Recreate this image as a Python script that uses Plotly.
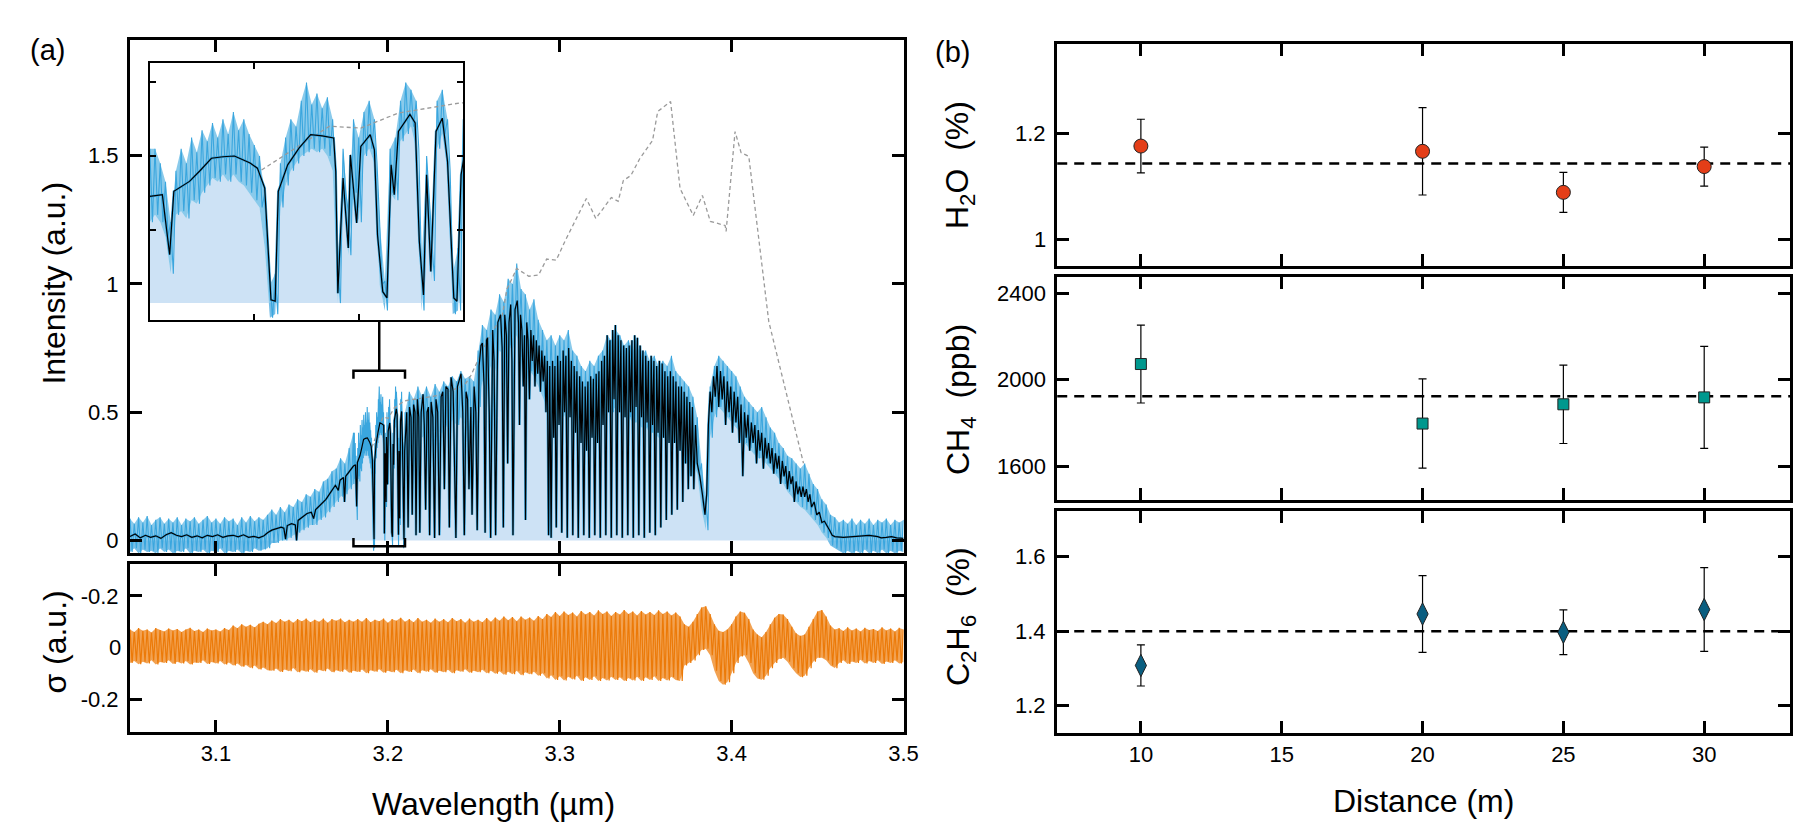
import plotly.graph_objects as go

# ------------------------------------------------------------------ data
# model (fitted) spectrum, black line
model_wl = [
    3.050, 3.053, 3.056, 3.059, 3.062, 3.065, 3.068, 3.071, 3.074, 3.077,
    3.080, 3.083, 3.086, 3.089, 3.092, 3.095, 3.098, 3.101, 3.104, 3.107,
    3.110, 3.113, 3.116, 3.119, 3.122, 3.125, 3.128, 3.130,
    3.1325, 3.135, 3.138, 3.1395, 3.1405, 3.1415, 3.144, 3.1462, 3.1469, 3.1478,
    3.150, 3.153, 3.1555, 3.1568, 3.158, 3.161, 3.164, 3.167, 3.1695, 3.1712,
    3.1722, 3.1742, 3.1748, 3.1755, 3.178, 3.180,
    3.1812, 3.1819, 3.1823, 3.1838, 3.1848, 3.1859, 3.1870, 3.1881, 3.1896, 3.1903,
    3.1910, 3.1916, 3.1920, 3.1923, 3.1932, 3.1943, 3.1954, 3.1965, 3.1976, 3.1978,
    3.1980, 3.1985, 3.1990, 3.1992, 3.1998, 3.2002, 3.2011, 3.2015, 3.2018, 3.2023,
    3.2027, 3.2031, 3.2034, 3.2038, 3.2049, 3.2054, 3.2058, 3.2062, 3.2065, 3.2069,
    3.2074, 3.2080, 3.2085, 3.2091, 3.2094, 3.2098, 3.2102,
    3.2110, 3.2118, 3.2126, 3.2135, 3.2142, 3.2150, 3.2158, 3.2164, 3.2172, 3.2180,
    3.2186, 3.2194, 3.2205, 3.2212, 3.2220, 3.2228, 3.2236, 3.2243, 3.2252, 3.2262,
    3.2272, 3.2280, 3.2290, 3.2300, 3.2310, 3.2320, 3.2329, 3.2338, 3.2350, 3.2358,
    3.2368, 3.2380, 3.2388, 3.2396, 3.2405, 3.2415, 3.2426, 3.2436, 3.2445, 3.2455,
    3.2464, 3.2472, 3.2483, 3.2490, 3.2502, 3.2512, 3.2520, 3.2531, 3.2542, 3.2550,
    3.2560, 3.2566, 3.2574, 3.2580, 3.2590, 3.2598, 3.2610, 3.2618, 3.2627, 3.2640,
    3.2656, 3.2665, 3.2672, 3.2680, 3.2690, 3.2697, 3.2705, 3.2715, 3.2722, 3.2728,
    3.2740, 3.2753, 3.2760,
    3.2766, 3.2772, 3.2780, 3.2788, 3.2795, 3.2801, 3.2808, 3.2816, 3.2824, 3.2832,
    3.2840, 3.2848, 3.2856, 3.2864, 3.2872, 3.2880, 3.2888, 3.2896, 3.2904, 3.2912,
    3.2920, 3.2928, 3.2935, 3.2942, 3.2950, 3.2958, 3.2965, 3.2972, 3.2980, 3.2988,
    3.2996, 3.3004, 3.3012, 3.3020, 3.3028, 3.3036, 3.3044, 3.3052, 3.3060, 3.3068,
    3.3076, 3.3084, 3.3092, 3.3100, 3.3108, 3.3116, 3.3124, 3.3132, 3.3140, 3.3148,
    3.3156, 3.3164, 3.3172, 3.3180, 3.3188, 3.3196, 3.3204, 3.3212, 3.3220, 3.3228,
    3.3236, 3.3244, 3.3252, 3.3260, 3.3268, 3.3276, 3.3284, 3.3292, 3.3300, 3.3308,
    3.3316, 3.3324, 3.3332, 3.3340, 3.3348, 3.3356, 3.3364, 3.3372, 3.3380, 3.3388,
    3.3396, 3.3404, 3.3412, 3.3420, 3.3428, 3.3436, 3.3444, 3.3452, 3.3460, 3.3468,
    3.3476, 3.3484, 3.3492, 3.3500, 3.3508, 3.3516, 3.3524, 3.3532, 3.3540, 3.3548,
    3.3556, 3.3564, 3.3572, 3.3580, 3.3588, 3.3596, 3.3604, 3.3612, 3.3620, 3.3628,
    3.3636, 3.3644, 3.3652, 3.3660, 3.3668, 3.3676, 3.3684, 3.3692, 3.3700, 3.3708,
    3.3716, 3.3724, 3.3732, 3.3740, 3.3748, 3.3756, 3.3764, 3.3772, 3.3780, 3.3790,
    3.3800, 3.3815, 3.3830, 3.3845, 3.3855, 3.3865, 3.3875, 3.3885, 3.3895, 3.3905,
    3.3915, 3.3925, 3.3935, 3.3945, 3.3955, 3.3965, 3.3975, 3.3985, 3.3995, 3.4005,
    3.4015, 3.4025, 3.4035, 3.4045, 3.4055, 3.4065, 3.4075, 3.4085, 3.4095, 3.4105,
    3.4115, 3.4125, 3.4135, 3.4145, 3.4155, 3.4165, 3.4175, 3.4185, 3.4195, 3.4205,
    3.4215, 3.4225, 3.4235, 3.4245, 3.4255, 3.4265, 3.4275, 3.4285, 3.4295, 3.4305,
    3.4315, 3.4325, 3.4335, 3.4345, 3.4355, 3.4365, 3.4375, 3.4385, 3.4395, 3.4405,
    3.4415, 3.4425, 3.4435, 3.4445, 3.4455, 3.4465, 3.4480, 3.4495, 3.4510, 3.4525,
    3.4540, 3.4555, 3.4570, 3.4585, 3.4600, 3.4650, 3.4700, 3.4750, 3.4800, 3.4850,
    3.4870, 3.4900, 3.4930, 3.4960, 3.5000,
]
model_int = [
    0.015, 0.025, 0.010, 0.020, 0.012, 0.018, 0.008, 0.022, 0.030, 0.020,
    0.015, 0.022, 0.012, 0.018, 0.010, 0.020, 0.015, 0.022, 0.012, 0.018,
    0.020, 0.014, 0.022, 0.012, 0.016, 0.010, 0.018, 0.030,
    0.040, 0.045, 0.052, 0.048, 0.005, 0.058, 0.065, 0.060, 0.000, 0.078,
    0.090, 0.105, 0.110, 0.085, 0.120, 0.140, 0.160, 0.190, 0.215, 0.195,
    0.235, 0.245, 0.150, 0.250, 0.270, 0.290,
    0.295, 0.132, 0.304, 0.331, 0.360, 0.394, 0.398, 0.400, 0.381, 0.367,
    0.313, 0.009, 0.005, 0.304, 0.376, 0.422, 0.458, 0.455, 0.449, 0.358,
    0.027, 0.340, 0.150, 0.403, 0.218, 0.426, 0.458, 0.417, 0.185, 0.031,
    0.014, 0.376, 0.295, 0.467, 0.513, 0.490, 0.168, 0.022, 0.349, 0.086,
    0.467, 0.503, 0.385, 0.014, 0.005, 0.349, 0.420,
    0.500, 0.050, 0.520, 0.480, 0.100, 0.530, 0.500, 0.020, 0.550, 0.480,
    0.030, 0.500, 0.570, 0.450, 0.120, 0.500, 0.520, 0.020, 0.540, 0.480,
    0.010, 0.550, 0.500, 0.020, 0.560, 0.580, 0.200, 0.600, 0.590, 0.050,
    0.636, 0.580, 0.300, 0.010, 0.600, 0.620, 0.650, 0.500, 0.020, 0.580,
    0.550, 0.200, 0.520, 0.100, 0.600, 0.500, 0.040, 0.680, 0.760, 0.770,
    0.600, 0.030, 0.780, 0.790, 0.500, 0.010, 0.820, 0.700, 0.020, 0.850,
    0.880, 0.750, 0.050, 0.880, 0.800, 0.300, 0.850, 0.920, 0.700, 0.020,
    0.900, 0.935, 0.850,
    0.45, 0.88, 0.82, 0.60, 0.80, 0.08, 0.85, 0.78, 0.55, 0.82,
    0.70, 0.80, 0.60, 0.78, 0.65, 0.76, 0.58, 0.74, 0.62, 0.72,
    0.50, 0.70, 0.02, 0.68, 0.01, 0.70, 0.40, 0.68, 0.05, 0.72,
    0.45, 0.70, 0.03, 0.74, 0.50, 0.72, 0.01, 0.75, 0.48, 0.70,
    0.02, 0.68, 0.42, 0.66, 0.01, 0.64, 0.38, 0.62, 0.02, 0.60,
    0.35, 0.62, 0.01, 0.64, 0.40, 0.63, 0.02, 0.65, 0.38, 0.66,
    0.01, 0.70, 0.45, 0.72, 0.02, 0.80, 0.50, 0.78, 0.01, 0.82,
    0.55, 0.84, 0.02, 0.80, 0.50, 0.78, 0.01, 0.76, 0.48, 0.75,
    0.02, 0.76, 0.50, 0.78, 0.01, 0.80, 0.52, 0.79, 0.02, 0.76,
    0.48, 0.74, 0.01, 0.72, 0.46, 0.70, 0.03, 0.72, 0.45, 0.70,
    0.02, 0.68, 0.42, 0.70, 0.05, 0.69, 0.40, 0.66, 0.08, 0.64,
    0.38, 0.66, 0.10, 0.64, 0.38, 0.62, 0.12, 0.60, 0.35, 0.60,
    0.15, 0.58, 0.30, 0.56, 0.20, 0.54, 0.25, 0.52, 0.20, 0.45,
    0.30, 0.25, 0.18, 0.10, 0.18, 0.45, 0.58, 0.50, 0.64, 0.56,
    0.68, 0.52, 0.66, 0.55, 0.64, 0.45, 0.62, 0.50, 0.60, 0.42,
    0.58, 0.46, 0.56, 0.38, 0.53, 0.25, 0.50, 0.40, 0.49, 0.35,
    0.46, 0.38, 0.45, 0.30, 0.43, 0.35, 0.42, 0.28, 0.40, 0.32,
    0.38, 0.30, 0.36, 0.26, 0.34, 0.28, 0.33, 0.22, 0.31, 0.25,
    0.29, 0.20, 0.27, 0.22, 0.25, 0.15, 0.23, 0.18, 0.21, 0.17,
    0.21, 0.17, 0.20, 0.15, 0.18, 0.13, 0.15, 0.10, 0.11, 0.07,
    0.075, 0.06, 0.04, 0.02, 0.015, 0.012, 0.015, 0.018, 0.020, 0.015,
    0.010, 0.012, 0.015, 0.010, 0.008,
]

# measured spectrum (blue): upper / lower edge of the noisy trace
band_wl = [
    3.05, 3.0525, 3.055, 3.0575, 3.06, 3.0625, 3.065, 3.0675, 3.07, 3.0725,
    3.075, 3.0775, 3.08, 3.0825, 3.085, 3.0875, 3.09, 3.0925, 3.095, 3.0975,
    3.1, 3.1025, 3.105, 3.1075, 3.11, 3.1125, 3.115, 3.1175, 3.12, 3.1225,
    3.125, 3.1275, 3.13, 3.1325, 3.135, 3.1375, 3.14, 3.1425, 3.145, 3.1475,
    3.15, 3.1525, 3.155, 3.1575, 3.16, 3.1625, 3.165, 3.1675, 3.17, 3.1725,
    3.175, 3.1775, 3.18,
    3.1805, 3.181, 3.1815, 3.182, 3.1825, 3.183, 3.1835, 3.184, 3.1845, 3.185,
    3.1855, 3.186, 3.1865, 3.187, 3.1875, 3.188, 3.1885, 3.189, 3.1895, 3.19,
    3.1905, 3.191, 3.1915, 3.192, 3.1925, 3.193, 3.1935, 3.194, 3.1945, 3.195,
    3.1955, 3.196, 3.1965, 3.197, 3.1975, 3.198, 3.1985, 3.199, 3.1995, 3.2,
    3.2005, 3.201, 3.2015, 3.202, 3.2025, 3.203, 3.2035, 3.204, 3.2045, 3.205,
    3.2055, 3.206, 3.2065, 3.207, 3.2075, 3.208, 3.2085, 3.209, 3.2095, 3.21,
    3.2125, 3.215, 3.2175, 3.22, 3.2225, 3.225, 3.2275, 3.23, 3.2325, 3.235,
    3.2375, 3.24, 3.2425, 3.245, 3.2475, 3.25, 3.2525, 3.255, 3.2575, 3.26,
    3.2625, 3.265, 3.2675, 3.27, 3.2725, 3.275, 3.2775, 3.28, 3.2825, 3.285,
    3.2875, 3.29, 3.2925, 3.295, 3.2975, 3.3, 3.3025, 3.305, 3.3075, 3.31,
    3.3125, 3.315, 3.3175, 3.32, 3.3225, 3.325, 3.3275, 3.33, 3.3325, 3.335,
    3.3375, 3.34, 3.3425, 3.345, 3.3475, 3.35, 3.3525, 3.355, 3.3575, 3.36,
    3.3625, 3.365, 3.3675, 3.37, 3.3725, 3.375, 3.3775, 3.38, 3.3825, 3.385,
    3.3875, 3.39, 3.3925, 3.395, 3.3975, 3.4, 3.4025, 3.405, 3.4075, 3.41,
    3.4125, 3.415, 3.4175, 3.42, 3.4225, 3.425, 3.4275, 3.43, 3.4325, 3.435,
    3.4375, 3.44, 3.4425, 3.445, 3.4475, 3.45, 3.4525, 3.455, 3.4575, 3.46,
    3.4625, 3.465, 3.4675, 3.47, 3.4725, 3.475, 3.4775, 3.48, 3.4825, 3.485,
    3.4875, 3.49, 3.4925, 3.495, 3.4975, 3.5,
]
blue_hi = [
    0.085, 0.065, 0.09, 0.07, 0.095, 0.06, 0.08, 0.09, 0.065, 0.085,
    0.07, 0.09, 0.06, 0.085, 0.075, 0.09, 0.065, 0.08, 0.095, 0.07,
    0.085, 0.065, 0.09, 0.075, 0.085, 0.06, 0.09, 0.07, 0.095, 0.075,
    0.09, 0.08, 0.10, 0.12, 0.10, 0.13, 0.11, 0.14, 0.13, 0.16,
    0.15, 0.18, 0.17, 0.20, 0.19, 0.23, 0.24, 0.27, 0.28, 0.32,
    0.30, 0.36, 0.42,
    0.42, 0.38, 0.33, 0.22, 0.36, 0.42, 0.38, 0.45, 0.41, 0.47,
    0.44, 0.49, 0.45, 0.50, 0.46, 0.52, 0.47, 0.50, 0.46, 0.43,
    0.40, 0.30, 0.05, 0.08, 0.38, 0.45, 0.50, 0.48, 0.55, 0.60,
    0.54, 0.57, 0.53, 0.56, 0.50, 0.10, 0.42, 0.25, 0.50, 0.45,
    0.52, 0.55, 0.50, 0.22, 0.06, 0.42, 0.45, 0.55, 0.60, 0.58,
    0.55, 0.10, 0.40, 0.18, 0.55, 0.58, 0.50, 0.08, 0.15, 0.50,
    0.58, 0.55, 0.60, 0.56, 0.60, 0.56, 0.61, 0.58, 0.62, 0.60,
    0.64, 0.62, 0.66, 0.63, 0.64, 0.62, 0.74, 0.84, 0.82, 0.90,
    0.88, 0.96, 0.93, 1.02, 1.00, 1.08, 0.98, 0.96, 0.90, 0.94,
    0.86, 0.82, 0.78, 0.80, 0.76, 0.80, 0.78, 0.82, 0.74, 0.72,
    0.68, 0.66, 0.70, 0.68, 0.72, 0.74, 0.80, 0.78, 0.82, 0.80,
    0.76, 0.78, 0.74, 0.76, 0.72, 0.74, 0.70, 0.72, 0.68, 0.70,
    0.68, 0.72, 0.66, 0.64, 0.62, 0.60, 0.56, 0.48, 0.30, 0.16,
    0.60, 0.68, 0.72, 0.70, 0.68, 0.66, 0.64, 0.60, 0.56, 0.54,
    0.52, 0.50, 0.52, 0.48, 0.44, 0.42, 0.38, 0.36, 0.33, 0.32,
    0.30, 0.28, 0.30, 0.26, 0.22, 0.20, 0.16, 0.14, 0.10, 0.09,
    0.07, 0.08, 0.065, 0.085, 0.06, 0.08, 0.065, 0.085, 0.06, 0.08,
    0.07, 0.085, 0.06, 0.08, 0.07, 0.08,
]
blue_lo = [
    -0.045, -0.03, -0.05, -0.035, -0.045, -0.04, -0.05, -0.03, -0.045, -0.035,
    -0.05, -0.04, -0.045, -0.03, -0.05, -0.04, -0.045, -0.035, -0.05, -0.04,
    -0.045, -0.03, -0.05, -0.04, -0.045, -0.035, -0.05, -0.04, -0.045, -0.03,
    -0.04, -0.035, -0.03, -0.01, -0.01, 0.0, 0.0, 0.01, 0.02, 0.03,
    0.04, 0.05, 0.06, 0.06, 0.08, 0.09, 0.11, 0.13, 0.15, 0.17,
    0.18, 0.20, 0.22,
    0.24, 0.22, 0.18, 0.08, 0.24, 0.25, 0.23, 0.28, 0.27, 0.30,
    0.32, 0.34, 0.33, 0.35, 0.33, 0.35, 0.33, 0.32, 0.30, 0.28,
    0.26, 0.15, -0.04, -0.03, 0.26, 0.32, 0.36, 0.38, 0.40, 0.41,
    0.42, 0.41, 0.42, 0.40, 0.36, 0.0, 0.30, 0.13, 0.30, 0.22,
    0.40, 0.42, 0.38, 0.05, -0.02, 0.30, 0.28, 0.44, 0.46, 0.48,
    0.42, -0.02, 0.28, 0.06, 0.42, 0.46, 0.36, -0.03, -0.02, 0.36,
    0.40, 0.38, 0.42, 0.40, 0.42, 0.40, 0.43, 0.42, 0.45, 0.44,
    0.47, 0.45, 0.48, 0.45, 0.44, 0.43, 0.52, 0.62, 0.62, 0.68,
    0.66, 0.74, 0.72, 0.76, 0.74, 0.80, 0.72, 0.70, 0.66, 0.64,
    0.60, 0.56, 0.52, 0.50, 0.48, 0.50, 0.48, 0.52, 0.46, 0.44,
    0.42, 0.40, 0.42, 0.42, 0.44, 0.46, 0.50, 0.50, 0.52, 0.50,
    0.48, 0.48, 0.46, 0.46, 0.44, 0.44, 0.42, 0.42, 0.40, 0.40,
    0.40, 0.42, 0.38, 0.36, 0.34, 0.32, 0.30, 0.26, 0.12, 0.04,
    0.40, 0.48, 0.52, 0.50, 0.48, 0.46, 0.44, 0.42, 0.38, 0.36,
    0.34, 0.32, 0.32, 0.30, 0.28, 0.26, 0.24, 0.22, 0.19, 0.17,
    0.15, 0.13, 0.12, 0.10, 0.08, 0.06, 0.03, 0.01, -0.02, -0.03,
    -0.04, -0.05, -0.04, -0.05, -0.04, -0.05, -0.035, -0.05, -0.04, -0.05,
    -0.035, -0.05, -0.04, -0.05, -0.04, -0.045,
]

# residual sigma (orange): upper / lower edge
resid_wl = [
    3.05, 3.0525, 3.055, 3.0575, 3.06, 3.0625, 3.065, 3.0675, 3.07, 3.0725,
    3.075, 3.0775, 3.08, 3.0825, 3.085, 3.0875, 3.09, 3.0925, 3.095, 3.0975,
    3.1, 3.1025, 3.105, 3.1075, 3.11, 3.1125, 3.115, 3.1175, 3.12, 3.1225,
    3.125, 3.1275, 3.13, 3.1325, 3.135, 3.1375, 3.14, 3.1425, 3.145, 3.1475,
    3.15, 3.1525, 3.155, 3.1575, 3.16, 3.1625, 3.165, 3.1675, 3.17, 3.1725,
    3.175, 3.1775, 3.18, 3.1825, 3.185, 3.1875, 3.19, 3.1925, 3.195, 3.1975,
    3.2, 3.2025, 3.205, 3.2075, 3.21,
    3.2125, 3.215, 3.2175, 3.22, 3.2225, 3.225, 3.2275, 3.23, 3.2325, 3.235,
    3.2375, 3.24, 3.2425, 3.245, 3.2475, 3.25, 3.2525, 3.255, 3.2575, 3.26,
    3.2625, 3.265, 3.2675, 3.27, 3.2725, 3.275, 3.2775, 3.28, 3.2825, 3.285,
    3.2875, 3.29, 3.2925, 3.295, 3.2975, 3.3, 3.3025, 3.305, 3.3075, 3.31,
    3.3125, 3.315, 3.3175, 3.32, 3.3225, 3.325, 3.3275, 3.33, 3.3325, 3.335,
    3.3375, 3.34, 3.3425, 3.345, 3.3475, 3.35, 3.3525, 3.355, 3.3575, 3.36,
    3.3625, 3.365, 3.3675, 3.37, 3.3725, 3.375, 3.3775, 3.38, 3.3825, 3.385,
    3.3875, 3.39, 3.3925, 3.395, 3.3975, 3.4, 3.4025, 3.405, 3.4075, 3.41,
    3.4125, 3.415, 3.4175, 3.42, 3.4225, 3.425, 3.4275, 3.43, 3.4325, 3.435,
    3.4375, 3.44, 3.4425, 3.445, 3.4475, 3.45, 3.4525, 3.455, 3.4575, 3.46,
    3.4625, 3.465, 3.4675, 3.47, 3.4725, 3.475, 3.4775, 3.48, 3.4825, 3.485,
    3.4875, 3.49, 3.4925, 3.495, 3.4975, 3.5,
]
resid_hi = [
    0.07, 0.06, 0.075, 0.065, 0.07, 0.058, 0.075, 0.068, 0.062, 0.074,
    0.066, 0.072, 0.06, 0.07, 0.076, 0.064, 0.07, 0.06, 0.074, 0.066,
    0.07, 0.062, 0.075, 0.068, 0.085, 0.075, 0.09, 0.08, 0.088, 0.078,
    0.092, 0.1, 0.09, 0.105, 0.095, 0.11, 0.1, 0.108, 0.096, 0.11,
    0.102, 0.112, 0.098, 0.108, 0.1, 0.112, 0.096, 0.11, 0.104, 0.112,
    0.098, 0.108, 0.1, 0.11, 0.1, 0.114, 0.098, 0.108, 0.102, 0.112,
    0.096, 0.11, 0.104, 0.115, 0.1,
    0.11, 0.098, 0.114, 0.1, 0.108, 0.096, 0.112, 0.1, 0.11, 0.098,
    0.114, 0.102, 0.11, 0.096, 0.112, 0.1, 0.108, 0.098, 0.114, 0.1,
    0.116, 0.104, 0.12, 0.106, 0.118, 0.102, 0.12, 0.108, 0.116, 0.104,
    0.122, 0.11, 0.13, 0.118, 0.138, 0.122, 0.14, 0.126, 0.136, 0.12,
    0.142, 0.128, 0.138, 0.124, 0.144, 0.13, 0.14, 0.122, 0.138, 0.128,
    0.145, 0.13, 0.14, 0.124, 0.142, 0.128, 0.138, 0.126, 0.144, 0.13,
    0.14, 0.124, 0.136, 0.12, 0.09, 0.08, 0.10, 0.13, 0.155, 0.16,
    0.13, 0.09, 0.065, 0.06, 0.07, 0.09, 0.12, 0.14, 0.135, 0.11,
    0.07, 0.05, 0.04, 0.06, 0.09, 0.115, 0.13, 0.128, 0.11, 0.08,
    0.055, 0.045, 0.05, 0.08, 0.11, 0.14, 0.145, 0.12, 0.085, 0.07,
    0.075, 0.064, 0.078, 0.066, 0.074, 0.062, 0.076, 0.068, 0.072, 0.064,
    0.078, 0.066, 0.074, 0.062, 0.076, 0.07,
]
resid_lo = [
    -0.06, -0.052, -0.065, -0.055, -0.062, -0.05, -0.066, -0.056, -0.06, -0.05,
    -0.064, -0.055, -0.062, -0.052, -0.066, -0.058, -0.06, -0.05, -0.064, -0.056,
    -0.062, -0.052, -0.066, -0.058, -0.07, -0.062, -0.075, -0.068, -0.08, -0.07,
    -0.085, -0.078, -0.088, -0.09, -0.082, -0.095, -0.085, -0.092, -0.08, -0.096,
    -0.088, -0.094, -0.084, -0.098, -0.086, -0.092, -0.082, -0.096, -0.088, -0.094,
    -0.084, -0.098, -0.09, -0.095, -0.085, -0.1, -0.088, -0.094, -0.084, -0.098,
    -0.09, -0.096, -0.086, -0.1, -0.088,
    -0.095, -0.085, -0.1, -0.088, -0.094, -0.084, -0.098, -0.09, -0.096, -0.086,
    -0.1, -0.088, -0.094, -0.084, -0.098, -0.09, -0.096, -0.086, -0.1, -0.09,
    -0.102, -0.092, -0.106, -0.094, -0.104, -0.09, -0.108, -0.096, -0.104, -0.094,
    -0.11, -0.1, -0.12, -0.108, -0.126, -0.112, -0.128, -0.114, -0.124, -0.11,
    -0.13, -0.116, -0.126, -0.112, -0.13, -0.118, -0.128, -0.114, -0.126, -0.116,
    -0.13, -0.118, -0.128, -0.114, -0.13, -0.116, -0.126, -0.112, -0.13, -0.118,
    -0.128, -0.114, -0.126, -0.13, -0.07, -0.06, -0.05, -0.03, -0.01, -0.005,
    -0.03, -0.09, -0.13, -0.145, -0.135, -0.1, -0.06, -0.035, -0.03, -0.06,
    -0.1, -0.12, -0.125, -0.11, -0.08, -0.06, -0.045, -0.04, -0.055, -0.08,
    -0.1, -0.115, -0.11, -0.08, -0.055, -0.04, -0.04, -0.05, -0.07, -0.08,
    -0.06, -0.05, -0.064, -0.054, -0.06, -0.048, -0.062, -0.052, -0.06, -0.05,
    -0.064, -0.054, -0.06, -0.05, -0.062, -0.056,
]

# grey dashed curve
cont_wl = [3.1907, 3.1972, 3.2002, 3.2038, 3.2096, 3.229, 3.2445, 3.2483, 3.2579,
           3.2666, 3.2693, 3.275, 3.282, 3.2877, 3.2924, 3.298, 3.3033, 3.3155,
           3.321, 3.330, 3.334, 3.337, 3.3414, 3.3466, 3.354, 3.357, 3.3645,
           3.370, 3.3777, 3.383, 3.3876, 3.3962, 3.3968, 3.402, 3.4055, 3.410,
           3.4216, 3.4418]
cont_int = [0.362, 0.481, 0.476, 0.517, 0.544, 0.565, 0.604, 0.643, 0.78,
            0.877, 0.98, 1.06, 1.03, 1.035, 1.097, 1.093, 1.17, 1.333,
            1.255, 1.337, 1.322, 1.403, 1.423, 1.489, 1.559, 1.672, 1.711,
            1.372, 1.267, 1.345, 1.244, 1.228, 1.205, 1.594, 1.512, 1.497,
            0.854, 0.301]

zoom_range = [3.18, 3.21]

distance = [10, 20, 25, 30]
h2o = [1.177, 1.167, 1.089, 1.138]
h2o_err = [0.051, 0.083, 0.038, 0.037]
h2o_mean = 1.144
ch4 = [2072, 1797, 1886, 1918]
ch4_err = [180, 206, 181, 236]
ch4_mean = 1923
c2h6 = [1.308, 1.446, 1.397, 1.458]
c2h6_err = [0.055, 0.103, 0.060, 0.112]
c2h6_mean = 1.40

wl_ticks = [3.1, 3.2, 3.3, 3.4, 3.5]
dist_ticks = [10, 15, 20, 25, 30]
h2o_ticks, h2o_labels = [1, 1.2], ["1", "1.2"]
ch4_ticks, ch4_labels = [1600, 2000, 2400], ["1600", "2000", "2400"]
c2h6_ticks, c2h6_labels = [1.2, 1.4, 1.6], ["1.2", "1.4", "1.6"]

assert len(model_wl) == len(model_int)
assert len(band_wl) == len(blue_hi) == len(blue_lo)
assert len(resid_wl) == len(resid_hi) == len(resid_lo)
assert len(cont_wl) == len(cont_int)

# ------------------------------------------------------------------ style
W, H = 1810, 825
FONT = "Liberation Sans, Arial, Helvetica, sans-serif"
BLUE = "rgb(58,166,222)"
BLUE_FILL = "rgba(58,166,222,0.6)"
LIGHT = "rgb(205,226,245)"
ORANGE = "rgb(236,122,8)"
ORANGE_FILL = "rgba(236,122,8,0.7)"


def px_x(p):
    return p / W


def px_y(p):
    return 1 - p / H


main_x_dom = [px_x(123), px_x(903)]
main_y_dom = [px_y(545), px_y(32)]
sig_y_dom = [px_y(724), px_y(556)]
ins_x_dom = [px_x(143), px_x(459)]
ins_y_dom = [px_y(312), px_y(55)]
b_x_dom = [px_x(1058), px_x(1797)]
b1_y_dom = [px_y(258), px_y(36)]
b2_y_dom = [px_y(492), px_y(269)]
b3_y_dom = [px_y(725), px_y(503)]

main_y_range = [-0.049, 1.951]
sig_y_range = [-0.328, 0.324]
wl_range = [3.05, 3.5]

fig = go.Figure()


def zigzag(xs, hi, lo):
    """Noisy trace drawn as strokes alternating between the upper and lower edge."""
    zx, zy = [], []
    n = len(xs)
    for i in range(n):
        zx.append(xs[i])
        zy.append(hi[i])
        if i < n - 1:
            zx.append((xs[i] + xs[i + 1]) / 2)
            zy.append(lo[i])
    return zx, zy


def add_noise(xs, hi, lo, line_col, fill_col, xa, ya, lw):
    fig.add_trace(go.Scatter(x=xs + xs[::-1], y=hi + lo[::-1], mode="lines",
                             line=dict(width=0, color=fill_col), fill="toself",
                             fillcolor=fill_col, xaxis=xa, yaxis=ya, hoverinfo="skip"))
    zx, zy = zigzag(xs, hi, lo)
    fig.add_trace(go.Scatter(x=zx, y=zy, mode="lines", line=dict(width=lw, color=line_col),
                             xaxis=xa, yaxis=ya, hoverinfo="skip"))


def add_spectrum(xa, ya, rim):
    fig.add_trace(go.Scatter(x=band_wl, y=blue_lo, mode="lines",
                             line=dict(width=0, color=LIGHT), fill="tozeroy",
                             fillcolor=LIGHT, xaxis=xa, yaxis=ya, hoverinfo="skip"))
    add_noise(band_wl, blue_hi, blue_lo, BLUE, BLUE_FILL, xa, ya, 1.1)
    fig.add_trace(go.Scatter(x=cont_wl, y=cont_int, mode="lines",
                             line=dict(color="#9a9a9a", width=1.3, dash="4px,3px"),
                             xaxis=xa, yaxis=ya))
    fig.add_trace(go.Scatter(x=model_wl, y=model_int, mode="lines",
                             line=dict(color=BLUE, width=rim), xaxis=xa, yaxis=ya))
    fig.add_trace(go.Scatter(x=model_wl, y=model_int, mode="lines",
                             line=dict(color="black", width=1.2), xaxis=xa, yaxis=ya))


# (a) main spectrum
add_spectrum("x", "y", 2.4)
# residual
add_noise(resid_wl, resid_hi, resid_lo, ORANGE, ORANGE_FILL, "x2", "y2", 1.2)
# inset
add_spectrum("x3", "y3", 2.4)

# (b) concentrations
err = dict(type="data", color="black", thickness=1.2, width=4)
fig.add_trace(go.Scatter(x=distance, y=h2o, mode="markers",
                         marker=dict(symbol="circle", size=14, color="rgb(228,62,24)",
                                     line=dict(color="#222", width=1)),
                         error_y=dict(err, array=h2o_err), xaxis="x4", yaxis="y4"))
fig.add_trace(go.Scatter(x=distance, y=ch4, mode="markers",
                         marker=dict(symbol="square", size=11, color="rgb(0,152,142)",
                                     line=dict(color="#222", width=1)),
                         error_y=dict(err, array=ch4_err), xaxis="x5", yaxis="y5"))
fig.add_trace(go.Scatter(x=distance, y=c2h6, mode="markers",
                         marker=dict(symbol="diamond-tall", size=16, color="rgb(10,94,128)",
                                     line=dict(color="#222", width=1)),
                         error_y=dict(err, array=c2h6_err), xaxis="x6", yaxis="y6"))

tickfont = dict(family=FONT, size=22, color="black")
base = dict(showline=True, linewidth=3, linecolor="black", mirror="allticks",
            ticks="inside", ticklen=12, tickwidth=3, tickcolor="black",
            showgrid=False, zeroline=False, tickfont=tickfont)
inset = dict(base, linewidth=2, ticklen=6, tickwidth=2, showticklabels=False)

layout_axes = dict(
    xaxis=dict(base, domain=main_x_dom, range=wl_range, tickvals=wl_ticks,
               showticklabels=False, anchor="y"),
    yaxis=dict(base, domain=main_y_dom, range=main_y_range, tickvals=[0, 0.5, 1, 1.5],
               ticktext=["0", "0.5", "1", "1.5"], anchor="x", ticklabelstandoff=4),
    xaxis2=dict(base, domain=main_x_dom, range=wl_range, tickvals=wl_ticks,
                ticktext=[str(v) for v in wl_ticks], anchor="y2", ticklabelstandoff=0),
    yaxis2=dict(base, domain=sig_y_dom, range=sig_y_range, tickvals=[-0.2, 0.2],
                ticktext=["-0.2", "-0.2"], anchor="x2", ticklabelstandoff=4),
    xaxis3=dict(inset, domain=ins_x_dom, range=zoom_range, tickvals=[3.19, 3.20], anchor="y3"),
    yaxis3=dict(inset, domain=ins_y_dom, range=[-0.046, 0.653], tickvals=[0.2, 0.4, 0.6],
                anchor="x3"),
    xaxis4=dict(base, domain=b_x_dom, range=[7.03, 33.05], tickvals=dist_ticks,
                showticklabels=False, anchor="y4"),
    yaxis4=dict(base, domain=b1_y_dom, range=[0.949, 1.371], tickvals=h2o_ticks,
                showticklabels=False, anchor="x4"),
    xaxis5=dict(base, domain=b_x_dom, range=[7.03, 33.05], tickvals=dist_ticks,
                showticklabels=False, anchor="y5"),
    yaxis5=dict(base, domain=b2_y_dom, range=[1444, 2474], tickvals=ch4_ticks,
                showticklabels=False, anchor="x5"),
    xaxis6=dict(base, domain=b_x_dom, range=[7.03, 33.05], tickvals=dist_ticks,
                ticktext=[str(v) for v in dist_ticks], anchor="y6", ticklabelstandoff=0),
    yaxis6=dict(base, domain=b3_y_dom, range=[1.127, 1.722], tickvals=c2h6_ticks,
                showticklabels=False, anchor="x6"),
)

# shapes: mean lines and zoom brackets
dash_line = dict(color="black", width=2.5, dash="10px,7px")
shapes = []
for ax, m in (("4", h2o_mean), ("5", ch4_mean), ("6", c2h6_mean)):
    shapes.append(dict(type="line", xref="x%s domain" % ax, yref="y" + ax, x0=0, x1=1,
                       y0=m, y1=m, line=dash_line, layer="below"))

z0, z1 = zoom_range
zm = (z0 + z1) / 2
br_top, br_top_tip = 0.662, 0.630
br_bot, br_bot_tip = -0.023, 0.009
ins_bottom = main_y_range[0] + (ins_y_dom[0] - main_y_dom[0]) / (main_y_dom[1] - main_y_dom[0]) * (
    main_y_range[1] - main_y_range[0])
br_line = dict(color="black", width=2.5)
shapes.append(dict(type="path", xref="x", yref="y", line=br_line,
                   path="M %f,%f L %f,%f L %f,%f L %f,%f" % (z0, br_top_tip, z0, br_top, z1, br_top, z1, br_top_tip)))
shapes.append(dict(type="path", xref="x", yref="y", line=br_line,
                   path="M %f,%f L %f,%f L %f,%f L %f,%f" % (z0, br_bot_tip, z0, br_bot, z1, br_bot, z1, br_bot_tip)))
shapes.append(dict(type="line", xref="x", yref="y", x0=zm, x1=zm, y0=br_top, y1=ins_bottom,
                   line=br_line))

tfont = dict(family=FONT, size=32, color="black")
lfont = dict(family=FONT, size=29, color="black")


def ann(text, x, y, font, angle=0, **kw):
    d = dict(text=text, x=x, y=y, xref="paper", yref="paper", showarrow=False,
             font=font, textangle=angle, xanchor="center", yanchor="middle")
    d.update(kw)
    return d


annotations = [
    ann("(a)", px_x(40), px_y(42), lfont),
    ann("(b)", px_x(952), px_y(44), lfont),
    ann("Intensity (a.u.)", px_x(46), px_y(275), tfont, -90),
    ann("σ (a.u.)", px_x(47), px_y(634), tfont, -90),
    ann("Wavelength (µm)", px_x(490), px_y(796), tfont),
    ann("Distance (m)", px_x(1427), px_y(793), tfont),
    ann("H<sub>2</sub>O\u00a0 (%)", px_x(959), px_y(157), tfont, -90),
    ann("CH<sub>4</sub>\u00a0 (ppb)", px_x(961), px_y(392), tfont, -90),
    ann("C<sub>2</sub>H<sub>6</sub>\u00a0 (%)", px_x(960), px_y(609), tfont, -90),
    dict(text="0", x=px_x(116), y=0, xref="paper", yref="y2", showarrow=False,
         font=tickfont, xanchor="right", yanchor="middle"),
]
# y tick labels of panel (b), set close to the axis line
for ax, vals, labels in (("4", h2o_ticks, h2o_labels), ("5", ch4_ticks, ch4_labels),
                         ("6", c2h6_ticks, c2h6_labels)):
    for v, t in zip(vals, labels):
        annotations.append(dict(text=t, x=0, y=v, xref="x%s domain" % ax, yref="y" + ax,
                                xanchor="right", yanchor="middle", xshift=-9,
                                showarrow=False, font=tickfont))

fig.update_layout(
    width=W, height=H, margin=dict(l=0, r=0, t=0, b=0),
    paper_bgcolor="white", plot_bgcolor="white", showlegend=False,
    shapes=shapes, annotations=annotations, font=dict(family=FONT, color="black"),
    **layout_axes,
)

fig.write_html("out.html")
